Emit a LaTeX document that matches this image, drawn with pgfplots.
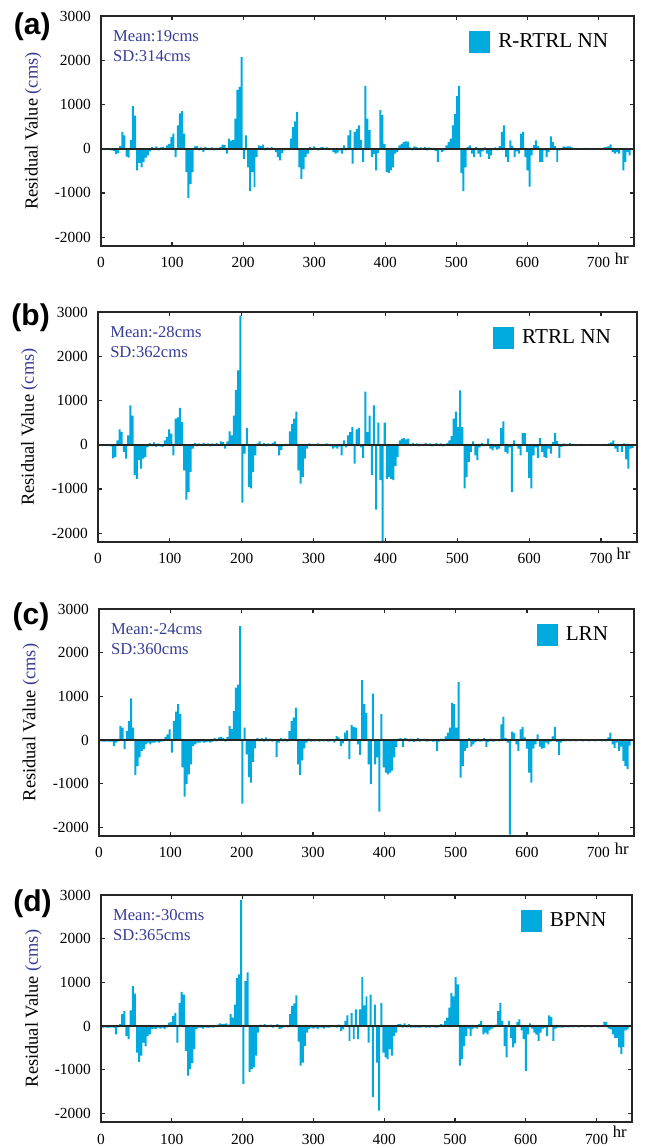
\documentclass[border=0pt]{standalone}
\usepackage{fontspec}
\setmainfont{Liberation Serif}
\newfontfamily\panelfont{Liberation Sans}
\usepackage{pgfplots}
\usepackage{pgfplotstable}
\pgfplotsset{compat=1.18}

\definecolor{barcyan}{RGB}{0,170,222}
\definecolor{statblue}{RGB}{55,60,150}

% residuals every 3 h, one column per model
\pgfplotstableread{
h a b c d
3 -20 -20 -30 -40
6 -30 -30 -40 -30
9 -20 -20 -40 -40
12 -30 -30 -30 -40
15 -40 -20 -40 -30
18 -50 -40 -40 -40
21 -120 -310 -140 -190
24 -100 -280 -60 -30
27 60 100 -30 40
30 380 345 320 270
33 300 285 280 340
36 -180 -165 -210 -230
39 -200 -315 200 -300
42 200 210 430 360
45 960 890 950 910
48 750 660 280 740
51 -490 -690 -800 -610
54 -320 -770 -600 -820
57 -420 -350 -400 -680
60 -300 -540 -250 -380
63 -200 -315 -210 -470
66 -150 -280 -100 -230
69 -60 -60 -60 -190
72 40 40 -100 -75
75 -30 -40 -60 -60
78 50 50 -60 -75
81 -40 -50 -40 -40
84 30 30 -60 -60
87 40 -40 -40 -40
90 20 -50 -30 -75
93 75 100 70 -30
96 110 170 130 75
99 260 345 240 90
102 340 250 -290 230
105 -190 -240 430 300
108 530 590 650 -380
111 800 620 820 530
114 850 830 600 780
117 340 510 -630 720
120 -530 -580 -1300 -570
123 -1120 -1240 -1010 -1140
126 -800 -1070 -790 -990
129 -530 -620 -560 -850
132 50 -90 -140 -530
135 60 40 -100 -75
138 -40 -40 -60 -40
141 30 30 -60 -40
144 -75 -30 -40 -60
147 40 40 -60 -30
150 20 -30 -50 -40
153 -30 30 -40 -40
156 30 -40 -60 -30
159 -40 30 -40 -40
162 20 -20 40 -20
165 -30 40 -30 30
168 40 -20 60 60
171 90 75 70 40
174 80 60 50 50
177 -110 -90 -40 60
180 230 75 70 30
183 180 300 320 270
186 200 210 250 190
189 680 660 660 490
192 1330 1240 1200 1100
195 1400 1680 1270 1180
198 2070 2920 2610 2890
201 -230 -1310 -1460 -1330
204 300 -200 280 1030
207 -420 380 -330 1230
210 -960 -955 -850 -1060
213 -530 -990 -980 -990
216 -870 -620 -500 -950
219 -190 -240 -190 -680
222 75 30 40 -150
225 60 75 -30 30
228 90 -30 50 -20
231 -40 40 -40 40
234 30 -40 60 -30
237 -30 30 -30 -20
240 40 -20 30 30
243 -20 40 -40 -40
246 -75 75 20 -20
249 -190 -40 -390 40
252 -265 -240 -60 -75
255 -100 -120 40 -60
258 -40 -40 -30 -30
261 20 20 30 20
264 -30 -30 -40 -30
267 230 300 200 270
270 490 470 430 460
273 620 590 510 520
276 830 750 740 700
279 -420 -580 -560 -360
282 -680 -880 -800 -910
285 -460 -730 -470 -840
288 -190 -315 -190 -460
291 -110 -90 -60 -150
294 40 30 30 -75
297 -30 -30 -40 -40
300 50 20 20 -60
303 20 -20 -30 -40
306 -40 30 -20 -75
309 30 -30 -40 -30
312 40 20 20 -40
315 -20 -20 -30 -60
318 30 30 -20 -30
321 -30 -20 -40 -40
324 -20 -40 -30 -30
327 -75 -90 -20 -20
330 -110 -60 -60 20
333 -90 -90 90 -40
336 -40 -40 60 30
339 -110 -240 -140 -115
342 75 100 -80 -80
345 -40 -60 170 115
348 300 210 220 245
351 420 285 -440 -340
354 -340 400 340 300
357 380 -430 300 -300
360 450 345 280 380
363 530 380 -100 -300
366 200 -60 -340 380
369 -300 -300 1370 1120
372 1420 1200 820 470
375 680 285 620 680
378 420 660 -560 -380
381 -190 -690 -1010 720
384 -120 890 1060 -1630
387 -490 -1470 -560 490
390 -100 500 -400 -840
393 870 -800 -1640 -1940
396 760 -2180 590 530
399 110 500 -630 -610
402 -530 -770 -750 -720
405 -550 -730 -790 -760
408 -490 -770 -750 -530
411 -420 -800 -700 -680
414 -110 -480 -400 -230
417 -80 -280 -160 -150
420 75 100 30 40
423 110 135 40 50
426 150 150 -160 -40
429 165 120 40 60
432 160 135 30 -30
435 30 -30 -40 40
438 -40 40 30 -40
441 50 -20 -50 -30
444 40 30 -30 -40
447 -30 -40 40 -30
450 30 20 -40 -40
453 -20 -30 -20 -30
456 40 40 30 -20
459 -40 -20 -40 -40
462 30 30 -30 -30
465 -30 -40 20 -40
468 20 -30 -40 -20
471 -50 40 -30 -30
474 -300 -20 -250 -40
477 -30 30 -40 -30
480 -75 -40 30 40
483 -40 -20 -30 30
486 75 40 80 115
489 150 100 170 190
492 230 195 280 420
495 530 590 850 760
498 780 750 820 680
501 1190 400 280 1120
504 1420 1230 1330 950
507 -550 400 -860 -910
510 -960 -990 -600 -760
513 -420 -730 -250 -460
516 40 -390 -180 -230
519 75 -165 40 -60
522 -110 75 -150 -230
525 -190 -240 -100 -75
528 40 -350 -50 -40
531 -110 -60 30 -60
534 -190 40 -40 40
537 -60 -30 -30 115
540 30 20 40 -190
543 -110 135 -160 -150
546 -230 -90 -50 -190
549 -150 -130 30 -100
552 -20 -60 -40 -60
555 30 -110 -30 -30
558 -40 -90 20 30
561 60 375 -30 340
564 380 525 360 530
567 530 -165 530 115
570 -190 -200 40 -460
573 -300 -60 -60 -720
576 190 -1070 -2170 115
579 70 100 190 -270
582 -190 -30 160 -490
585 -60 -90 -100 -400
588 -110 -240 -250 90
591 340 270 245 150
594 380 260 300 -100
597 -190 -165 60 -300
600 -490 -750 -200 -1030
603 -860 -990 -750 -190
606 -150 -240 -980 60
609 80 -60 -200 -60
612 190 -300 -100 -150
615 60 150 130 -200
618 -300 -165 -150 -340
621 -300 -280 -200 -150
624 -40 -300 -180 -60
627 -190 -90 -60 -40
630 -80 -200 -100 -230
633 280 60 -40 245
636 150 260 80 200
639 60 80 300 -340
642 -300 -300 -50 -60
645 -40 -50 -340 -40
648 20 30 -60 -30
651 50 -30 30 -40
654 40 20 -30 -30
657 50 40 20 -20
660 50 -20 -30 -30
663 30 20 -20 -20
666 -20 -20 -20 -30
669 20 -10 -30 -20
672 -20 20 -20 -20
675 10 -20 -20 -30
678 -20 10 -30 -20
681 20 -20 -20 -20
684 -10 -10 -20 -30
687 20 20 -30 -20
690 -20 -10 -20 -20
693 20 -20 -20 -30
696 -10 10 -30 -20
699 -20 -20 -20 -20
702 20 -10 -20 -30
705 -20 20 -30 -20
708 30 -20 -20 -20
711 40 30 -30 100
714 50 50 60 90
717 100 100 170 -60
720 -75 -90 -100 -80
723 -110 -165 -180 -190
726 -75 -30 -60 -270
729 -110 -165 -250 -270
732 -20 30 -150 -490
735 -490 -330 -480 -640
738 -300 -540 -600 -480
741 -80 -90 -670 -100
744 -150 -70 -130 -80
}\resid

\pgfplotsset{
  residax/.style={
    scale only axis, anchor=north west, clip mode=individual,
    xmin=0, xmax=750, ymin=-2200, ymax=3000,
    xtick={0,100,...,700}, ytick={-2000,-1000,...,3000},
    tick align=inside, major tick length=2pt,
    axis line style={line width=0.8pt, black!85},
    every tick/.style={black!85, line width=0.6pt},
    tick label style={font=\fontsize{7.7}{9}\selectfont},
    /pgf/number format/assume math mode=true,
    /pgf/number format/1000 sep={},
    xticklabel style={yshift=-2pt},
    yticklabel style={xshift=-1.6pt},
    ylabel={Residual Value {\color{statblue}(cms)}},
    every axis y label/.style={at={(axis description cs:-0.127,0.5)}, rotate=90,
      anchor=center, font=\fontsize{9.2}{11}\selectfont},
    legend style={draw=none, fill=none, at={(0.96,0.886)}, anchor=east,
      font=\fontsize{10.6}{12}\selectfont, inner sep=0pt},
  },
  residbar/.style={ybar, bar width=2.8, fill=barcyan, draw=none,
    legend image code/.code={\fill[barcyan] (0pt,-5.5pt) rectangle (10.5pt,5.5pt);
      \path (12.5pt,0pt);}},
  zeroline/.style={black!85, line width=1pt, forget plot},
}
\newcommand{\statfont}{\fontsize{8.3}{10}\selectfont}
\newcommand{\letterfont}{\panelfont\bfseries\fontsize{15}{15}\selectfont}

\begin{document}
\begin{tikzpicture}
\useasboundingbox (0,0) rectangle (322pt,-574pt);

\begin{axis}[residax, at={(50.5pt,-8pt)}, width=266.5pt, height=115pt]
\addplot[residbar] table[x=h, y=a] {\resid};
\addlegendentry{R-RTRL NN}
\addplot[zeroline] coordinates {(0,0) (750,0)};
\node[anchor=north west, align=left, inner sep=0pt, text=statblue, font=\statfont]
  at (rel axis cs:0.022,0.94) {Mean:19cms\\SD:314cms};
\node[font=\letterfont] at (rel axis cs:-0.129,0.955) {(a)};
\node[anchor=north, inner sep=0pt, yshift=-3.5pt, font=\statfont] at (rel axis cs:0.977,0) {hr};
\end{axis}

\begin{axis}[residax, at={(49pt,-156pt)}, width=269.5pt, height=115pt]
\addplot[residbar] table[x=h, y=b] {\resid};
\addlegendentry{RTRL NN}
\addplot[zeroline] coordinates {(0,0) (750,0)};
\node[anchor=north west, align=left, inner sep=0pt, text=statblue, font=\statfont]
  at (rel axis cs:0.022,0.94) {Mean:-28cms\\SD:362cms};
\node[font=\letterfont] at (rel axis cs:-0.125,0.975) {(b)};
\node[anchor=north, inner sep=0pt, yshift=-3pt, font=\statfont] at (rel axis cs:0.975,0) {hr};
\end{axis}

\begin{axis}[residax, at={(49.5pt,-304.5pt)}, width=267.5pt, height=113.5pt]
\addplot[residbar] table[x=h, y=c] {\resid};
\addlegendentry{LRN}
\addplot[zeroline] coordinates {(0,0) (750,0)};
\node[anchor=north west, align=left, inner sep=0pt, text=statblue, font=\statfont]
  at (rel axis cs:0.022,0.94) {Mean:-24cms\\SD:360cms};
\node[font=\letterfont] at (rel axis cs:-0.127,0.965) {(c)};
\node[anchor=north, inner sep=0pt, yshift=-3.5pt, font=\statfont] at (rel axis cs:0.977,0) {hr};
\end{axis}

\begin{axis}[residax, at={(50.5pt,-447.5pt)}, width=265.5pt, height=113.5pt,
  xticklabel style={yshift=-0.5pt}]
\addplot[residbar] table[x=h, y=d] {\resid};
\addlegendentry{BPNN}
\addplot[zeroline] coordinates {(0,0) (750,0)};
\node[anchor=north west, align=left, inner sep=0pt, text=statblue, font=\statfont]
  at (rel axis cs:0.022,0.94) {Mean:-30cms\\SD:365cms};
\node[font=\letterfont] at (rel axis cs:-0.129,0.96) {(d)};
\node[anchor=north, inner sep=0pt, yshift=-2pt, font=\statfont] at (rel axis cs:0.977,0) {hr};
\end{axis}
\end{tikzpicture}
\end{document}
